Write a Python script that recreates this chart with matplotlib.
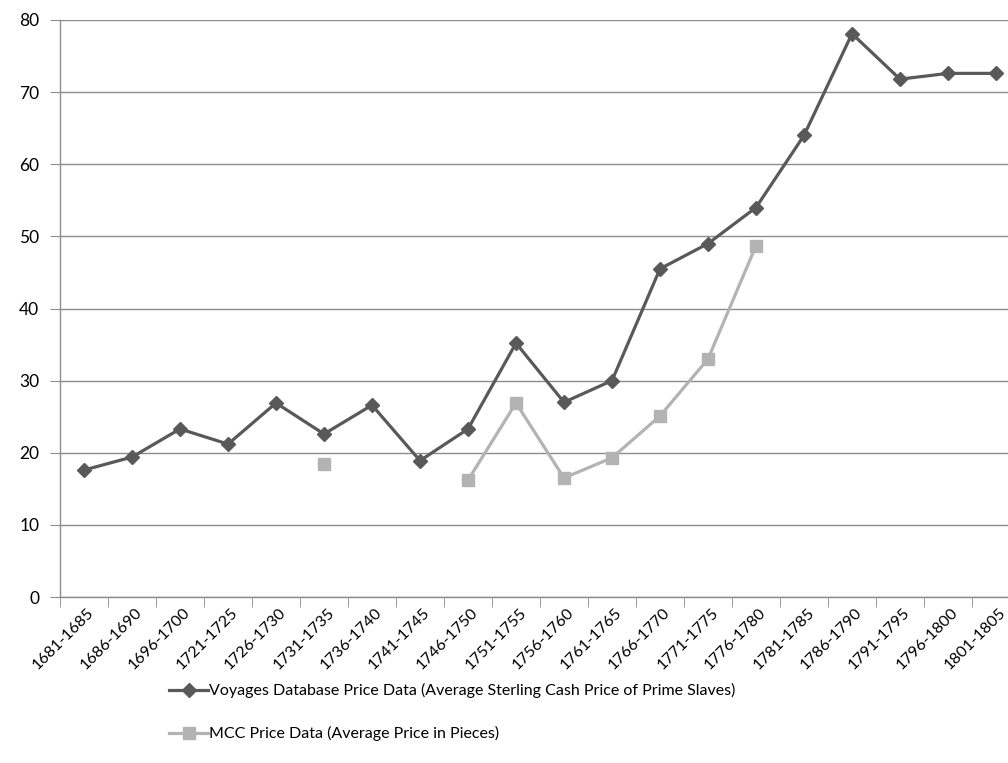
import matplotlib.pyplot as plt
import matplotlib.transforms as mtransforms
import numpy as np

plt.rcParams['font.family'] = ['Lato', 'DejaVu Sans']

periods = ['1681-1685', '1686-1690', '1696-1700', '1721-1725', '1726-1730',
           '1731-1735', '1736-1740', '1741-1745', '1746-1750', '1751-1755',
           '1756-1760', '1761-1765', '1766-1770', '1771-1775', '1776-1780',
           '1781-1785', '1786-1790', '1791-1795', '1796-1800', '1801-1805']

voyages = [17.6, 19.4, 23.3, 21.2, 26.9, 22.6, 26.6, 18.9, 23.3, 35.2,
           27.0, 30.0, 45.5, 49.0, 54.0, 64.0, 78.1, 71.8, 72.6, 72.6]

nan = np.nan
mcc = [nan, nan, nan, nan, nan, 18.4, nan, nan, 16.2, 26.9,
       16.5, 19.3, 25.1, 33.0, 48.7, nan, nan, nan, nan, nan]

dark = '#595959'
light = '#b3b3b3'
grid = '#8c8c8c'

fig = plt.figure(figsize=(10.08, 7.63), dpi=100)
ax = fig.add_axes([60 / 1008, 1 - 597 / 763, 960 / 1008, 577 / 763])

x = np.arange(len(periods))
ax.plot(x, voyages, color=dark, lw=2.3, marker='D', ms=7.5, mec=dark, mfc=dark,
        label='Voyages Database Price Data (Average Sterling Cash Price of Prime Slaves)')
ax.plot(x, mcc, color=light, lw=2.3, marker='s', ms=8, mec=light, mfc=light,
        label='MCC Price Data (Average Price in Pieces)')

ax.set_xlim(-0.5, len(periods) - 0.5)
ax.set_ylim(0, 80)
ax.set_yticks(range(0, 81, 10))
ax.yaxis.grid(True, color=grid, lw=1)
ax.set_axisbelow(True)

for s in ['top', 'right']:
    ax.spines[s].set_visible(False)
for s in ['left', 'bottom']:
    ax.spines[s].set_color(grid)
    ax.spines[s].set_linewidth(1)

# category labels at the centres, tick marks on the boundaries
ax.set_xticks(x)
ax.set_xticklabels(periods, rotation=45, ha='right', va='top',
                   rotation_mode='anchor', fontsize=11.5)
ax.tick_params(axis='x', which='major', length=0, pad=6)
ax.set_xticks(np.arange(-0.5, len(periods)), minor=True)
ax.tick_params(axis='x', which='minor', length=7, color=grid, direction='out')
ax.tick_params(axis='y', length=7, color=grid, labelsize=12.5, pad=8)

# nudge rotated labels a little right of the category centre
shift = mtransforms.ScaledTranslation(0.03, 0, fig.dpi_scale_trans)
for lbl in ax.get_xticklabels():
    lbl.set_transform(lbl.get_transform() + shift)

fig.legend(loc='upper left', bbox_to_anchor=(163 / 1008, 1 - 677 / 763),
           frameon=False, fontsize=11.5, handlelength=2.4, handletextpad=0.1,
           labelspacing=1.75, borderaxespad=0)

fig.savefig('out.png', dpi=100)
